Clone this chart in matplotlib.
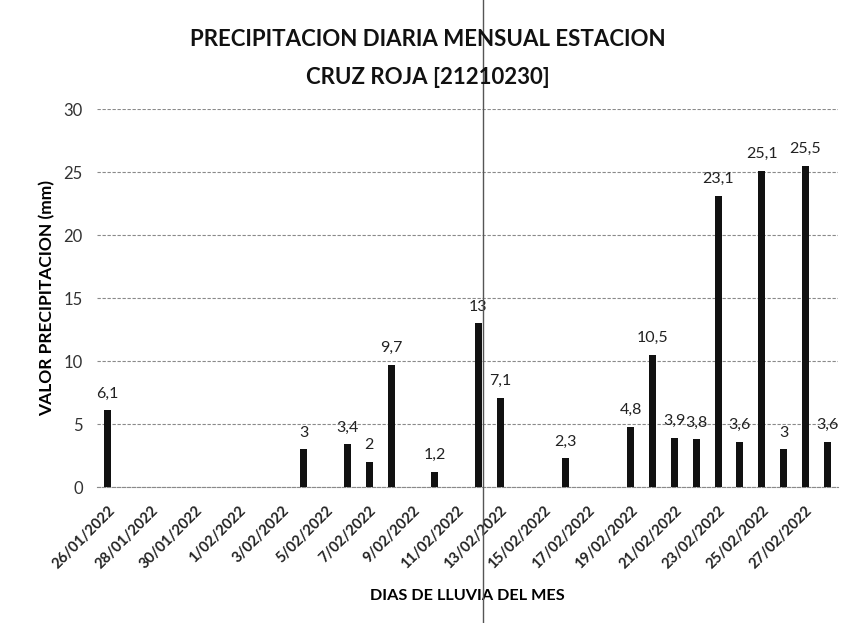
import numpy as np
import pandas as pd
import matplotlib
matplotlib.use('Agg')
import matplotlib.pyplot as plt
import matplotlib.dates as mdates
from matplotlib.ticker import FuncFormatter
from matplotlib.lines import Line2D

# dias con lluvia y valor (mm)
rain_days = ['2022-01-26', '2022-02-04', '2022-02-06', '2022-02-07', '2022-02-08',
             '2022-02-10', '2022-02-12', '2022-02-13', '2022-02-16', '2022-02-19',
             '2022-02-20', '2022-02-21', '2022-02-22', '2022-02-23', '2022-02-24',
             '2022-02-25', '2022-02-26', '2022-02-27', '2022-02-28']
rain_mm = [6.1, 3, 3.4, 2, 9.7, 1.2, 13, 7.1, 2.3, 4.8,
           10.5, 3.9, 3.8, 23.1, 3.6, 25.1, 3, 25.5, 3.6]
first_day = '2022-01-26'
last_day = '2022-02-28'

plt.rcParams['font.family'] = ['Lato', 'DejaVu Sans']

dates = pd.to_datetime(rain_days)
tick_days = pd.date_range(first_day, last_day, freq='2D')

fig = plt.figure(figsize=(8.56, 6.23), dpi=100)
ax = fig.add_axes([0.113, 0.218, 0.866, 0.607])

ax.bar(dates, rain_mm, width=0.32, color='#111111', zorder=3)
for d, v in zip(dates, rain_mm):
    ax.annotate(f'{v:g}'.replace('.', ','), (d, v), xytext=(0, 7),
                textcoords='offset points', ha='center', va='bottom',
                fontsize=11.5, color='#222222')

x0 = pd.Timestamp(first_day) - pd.Timedelta(hours=12)
x1 = pd.Timestamp(last_day) + pd.Timedelta(hours=12)
ax.set_xlim(x0, x1)
ax.set_ylim(0, 30)
ax.set_yticks(range(0, 31, 5))
ax.yaxis.grid(True, color='#8a8a8a', linestyle=(0, (3, 1.5)), linewidth=0.8)
ax.set_axisbelow(True)

ax.set_xticks(tick_days)
ax.xaxis.set_major_formatter(FuncFormatter(
    lambda x, pos: (lambda d: f'{d.day}/{d.month:02d}/{d.year}')(mdates.num2date(x))))
plt.setp(ax.get_xticklabels(), rotation=45, ha='right', rotation_mode='anchor',
         fontsize=10.6, fontweight='bold', color='#222222')
ax.tick_params(axis='x', length=0, pad=12)
ax.tick_params(axis='y', length=0, pad=10, labelsize=12, labelcolor='#333333')

for s in ['top', 'right', 'left']:
    ax.spines[s].set_visible(False)
ax.spines['bottom'].set_color('#8a8a8a')
ax.spines['bottom'].set_linestyle((0, (3, 1.5)))

ax.set_ylabel('VALOR PRECIPITACION (mm)', fontsize=12.5, fontweight='bold', labelpad=6)
ax.set_xlabel('DIAS DE LLUVIA DEL MES', fontsize=11.7, fontweight='bold', labelpad=12)
fig.text(0.5, 0.906, 'PRECIPITACION DIARIA MENSUAL ESTACION\nCRUZ ROJA [21210230]',
         ha='center', va='center', fontsize=16, fontweight='bold',
         color='#111111', linespacing=1.95)

# linea del escaneo
fig.add_artist(Line2D([483 / 856, 483 / 856], [0, 1], color='#555555', lw=1))

plt.savefig('out.png')
